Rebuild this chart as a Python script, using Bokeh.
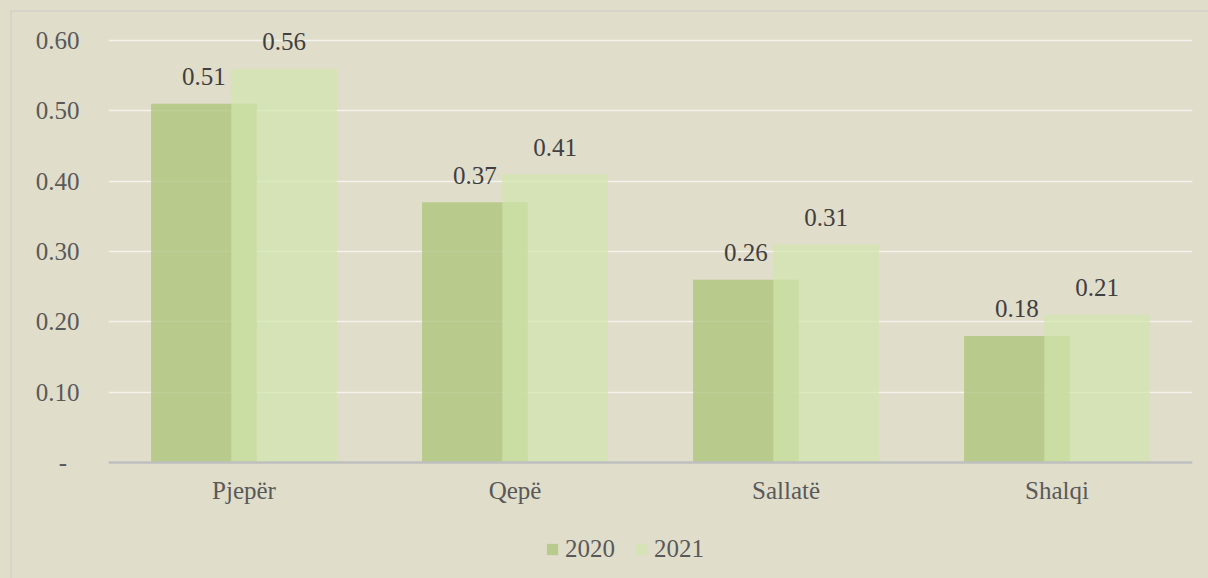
from bokeh.plotting import figure
from bokeh.models import (ColumnDataSource, FactorRange, Range1d, FixedTicker, CustomJSTickFormatter,
                          Legend, LegendItem, Span, GlobalInlineStyleSheet)
from bokeh.transform import dodge
from bokeh.core.properties import value
from bokeh.embed import file_html
from bokeh.resources import INLINE

categories = ["Pjepër", "Qepë", "Sallatë", "Shalqi"]
series_names = ["2020", "2021"]
values_2020 = [0.51, 0.37, 0.26, 0.18]
values_2021 = [0.56, 0.41, 0.31, 0.21]
y_ticks = [0.0, 0.1, 0.2, 0.3, 0.4, 0.5, 0.6]

BG = "#e0ddcb"
FONT = "Liberation Serif"
FS = "25px"

source = ColumnDataSource(dict(
    cat=categories,
    v2020=values_2020,
    v2021=values_2021,
    l2020=["%.2f" % v for v in values_2020],
    l2021=["%.2f" % v for v in values_2021],
))

# frame: 0.6 -> 40px from top, 0 -> 462px; frame spans the whole height
FRAME_H = 570
PX_PER_UNIT = (462 - 40) / 0.6
y_start = -(FRAME_H - 462) / PX_PER_UNIT
y_end = 0.6 + 40 / PX_PER_UNIT

p = figure(x_range=FactorRange(*categories, range_padding=0), y_range=Range1d(y_start, y_end),
           frame_width=1084, frame_height=FRAME_H, output_backend="svg", toolbar_location=None,
           min_border_left=108, min_border_right=8, min_border_top=0, min_border_bottom=0)
p.background_fill_color = BG
p.border_fill_color = BG
p.outline_line_color = None

off = 0.148
w = 0.39
r1 = p.vbar(x=dodge("cat", -off, range=p.x_range), top="v2020", width=w, source=source,
            fill_color="#b2c783", fill_alpha=0.85, line_color=None)
r2 = p.vbar(x=dodge("cat", off, range=p.x_range), top="v2021", width=w, source=source,
            fill_color="#d2e6ac", fill_alpha=0.7, line_color=None)

for col, lab, o in (("v2020", "l2020", -off), ("v2021", "l2021", off)):
    p.text(x=dodge("cat", o, range=p.x_range), y=col, text=lab, source=source,
           text_font=value(FONT), text_font_size=FS, text_color="#404040",
           text_align="center", text_baseline="alphabetic", y_offset=-27)

# category axis: baseline + labels
p.xaxis.visible = False
p.add_layout(Span(location=0, dimension="width", line_color="#bfbfbf", line_width=2.5))
p.text(x="cat", y=0, text="cat", source=source, text_font=value(FONT), text_font_size=FS,
       text_color="#595959", text_align="center", text_baseline="top", y_offset=14)

# value axis
p.yaxis.ticker = FixedTicker(ticks=y_ticks)
p.yaxis.formatter = CustomJSTickFormatter(code="""
    return tick < 1e-9 ? '-\u00a0\u00a0' : tick.toFixed(2);
""")
p.yaxis.axis_line_color = None
p.yaxis.major_tick_line_color = None
p.yaxis.minor_tick_line_color = None
p.yaxis.major_label_standoff = 23
p.yaxis.major_label_text_font = FONT
p.yaxis.major_label_text_font_size = FS
p.yaxis.major_label_text_color = "#595959"

p.xgrid.grid_line_color = None
p.ygrid.ticker = FixedTicker(ticks=y_ticks[1:])
p.ygrid.grid_line_color = "#f4f3ee"
p.ygrid.grid_line_width = 1.5

legend = Legend(items=[LegendItem(label=series_names[0], renderers=[r1]),
                       LegendItem(label=series_names[1], renderers=[r2])],
                orientation="horizontal", location=(437, 7),
                label_text_font=FONT, label_text_font_size=FS, label_text_color="#595959",
                glyph_width=14, glyph_height=14, label_standoff=6, spacing=19,
                border_line_color=None, background_fill_alpha=0, margin=0, padding=0)
p.add_layout(legend, "center")

p.stylesheets = [GlobalInlineStyleSheet(css="""
body { background: #e0ddcb; }
body::before { content: ''; position: fixed; left: 10px; top: 10px; width: 3000px; height: 3000px;
  border-left: 2px solid #d6d4c9; border-top: 2px solid #d6d4c9; pointer-events: none; z-index: 10; }
""")]

open("out.html", "w").write(file_html(p, INLINE))
